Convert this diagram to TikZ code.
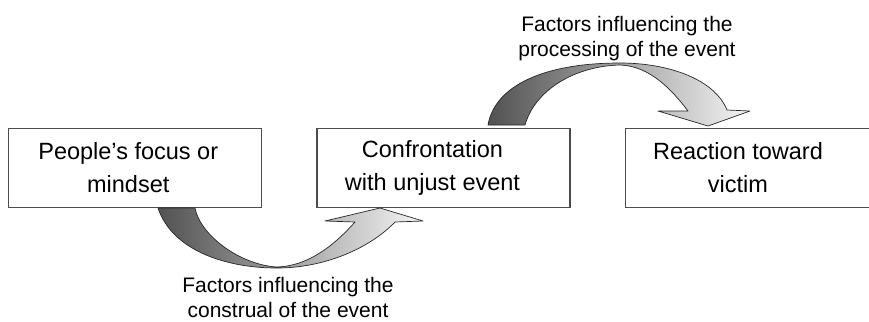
\documentclass[tikz,border=0pt]{standalone}
\usepackage{fontspec}
\setmainfont{Liberation Sans}
\begin{document}
\begin{tikzpicture}[x=1bp,y=-1bp,
    box/.style={draw=black!70,line width=1.1pt,rectangle,minimum width=253bp,minimum height=79bp},
    boxtext/.style={align=center,inner sep=0pt,font=\fontsize{23.5bp}{33bp}\selectfont},
    factor/.style={align=center,inner sep=0pt,font=\fontsize{21bp}{25bp}\selectfont},
    bentarrow/.style={draw=black!85,line width=0.7pt,line join=round,left color=black!68,right color=black!4}]
      \useasboundingbox (0,0) rectangle (869,321);
      \clip (0,0) rectangle (869,321);

      \node[box] (Focus) at (135.25,168) {};
      \node[box] (Confrontation) at (443.5,168) {};
      \node[box] (Reaction) at (752,168) {};

      \node[boxtext] (FocusText) at ([xshift=-7bp]Focus.center) {People’s focus or\\mindset};
      \node[boxtext] (ConfrontationText) at ([xshift=-11bp]Confrontation.center) {Confrontation\\with unjust event};
      \node[boxtext] (ReactionText) at ([xshift=-14bp]Reaction.center) {Reaction toward\\victim};

      % lower bent arrow, Focus -> Confrontation
      \draw[bentarrow] (158,208) .. controls (172,250) and (225,268) .. (277,268)
          .. controls (325,268) and (370,248) .. (395,222) -- (423,221) -- (380,208)
          -- (325,221) -- (355,222) .. controls (330,250) and (305,266) .. (277,267)
          .. controls (240,265) and (200,235) .. (195,208) -- cycle;

      % upper bent arrow, Confrontation -> Reaction
      \draw[bentarrow] (488,125) .. controls (495,85) and (545,63) .. (620,63)
          .. controls (670,63) and (715,80) .. (727,110) -- (750,111) -- (708,126)
          -- (658,111) -- (688,111) .. controls (672,90) and (650,66) .. (620,65)
          .. controls (575,66) and (535,90) .. (525,125) -- cycle;

      \node[factor] (Construal) at (288,297.5) {Factors influencing the\\construal of the event};
      \node[factor] (Processing) at (627,39) {Factors influencing the\\processing of the event};
    \end{tikzpicture}
\end{document}
